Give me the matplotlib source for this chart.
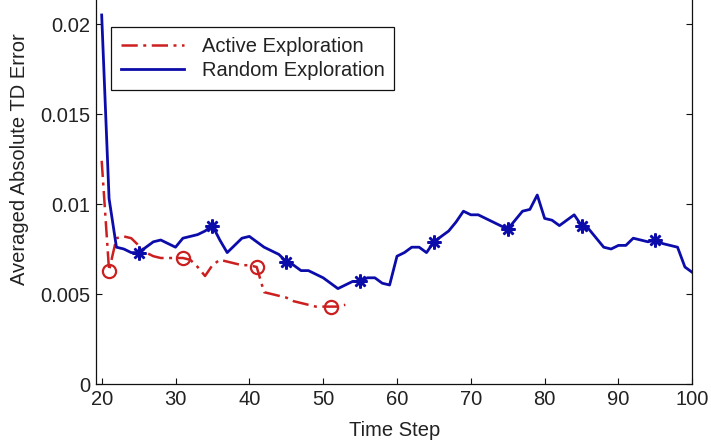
import matplotlib
matplotlib.use("Agg")
import matplotlib.pyplot as plt

# ---- data ----
random_steps = list(range(20, 101))
random_err = [0.0205, 0.0103, 0.0076, 0.0075, 0.0073, 0.0073, 0.0076, 0.0079, 0.0080, 0.0078,
              0.0076, 0.0081, 0.0082, 0.0083, 0.0085, 0.0088, 0.0080, 0.0073, 0.0077, 0.0081,
              0.0082, 0.0079, 0.0076, 0.0074, 0.0072, 0.0068, 0.0066, 0.0063, 0.0063, 0.0061,
              0.0059, 0.0056, 0.0053, 0.0055, 0.0057, 0.0057, 0.0059, 0.0059, 0.0056, 0.0055,
              0.0071, 0.0073, 0.0076, 0.0076, 0.0073, 0.0079, 0.0082, 0.0085, 0.0090, 0.0096,
              0.0094, 0.0094, 0.0092, 0.0090, 0.0088, 0.0086, 0.0091, 0.0096, 0.0097, 0.0105,
              0.0092, 0.0091, 0.0088, 0.0091, 0.0094, 0.0088, 0.0086, 0.0081, 0.0076, 0.0075,
              0.0077, 0.0077, 0.0081, 0.0080, 0.0079, 0.0080, 0.0078, 0.0077, 0.0076, 0.0065,
              0.0062]
active_steps = list(range(20, 54))
active_err = [0.0124, 0.0063, 0.0081, 0.0082, 0.0081, 0.0077, 0.0073, 0.0071, 0.0070, 0.0070,
              0.0070, 0.0070, 0.0069, 0.0065, 0.0060, 0.0066, 0.0069, 0.0068, 0.0067, 0.0066,
              0.0066, 0.0065, 0.0051, 0.0050, 0.0049, 0.0048, 0.0046, 0.0045, 0.0044, 0.0043,
              0.0043, 0.0043, 0.0043, 0.0044]
x_ticks = [20, 30, 40, 50, 60, 70, 80, 90, 100]
y_ticks = [0, 0.005, 0.01, 0.015, 0.02]
y_tick_labels = ["0", "0.005", "0.01", "0.015", "0.02"]
series_labels = ["Active Exploration", "Random Exploration"]
x_label = "Time Step"
y_label = "Averaged Absolute TD Error"

red = "#cc2020"
blue = "#0c0caa"
txt = "#222222"

plt.rcParams['font.family'] = ['Liberation Sans', 'DejaVu Sans']
plt.rcParams['font.size'] = 14.5

fig = plt.figure(figsize=(7.11, 4.48), dpi=100)
ax = fig.add_axes([96 / 711, 64 / 448, 596.3 / 711, 450 / 448])

ax.plot(active_steps, active_err, color=red, lw=1.8,
        linestyle=(0, (6.5, 2.2, 1.2, 2.2)), label=series_labels[0])
ax.plot(random_steps, random_err, color=blue, lw=2.0, label=series_labels[1])
ax.plot(active_steps, active_err, linestyle="none", marker="o", ms=9.5,
        mfc="none", mec=red, mew=1.6, markevery=slice(1, None, 10))
ax.plot(random_steps, random_err, linestyle="none", marker=(8, 2, 0), ms=10,
        mec=blue, mew=1.8, markevery=slice(5, None, 10))

ax.set_xlim(19.23, 100)
ax.set_ylim(0, 0.025)
ax.set_xticks(x_ticks)
ax.set_yticks(y_ticks)
ax.set_yticklabels(y_tick_labels)

ax.tick_params(direction="in", length=4.5, width=0.8, top=True, right=True,
               colors="#111111", labelcolor=txt, pad=4)
for s in ax.spines.values():
    s.set_linewidth(0.9)
    s.set_color("#111111")

ax.set_xlabel(x_label, color=txt, labelpad=9)
ax.set_ylabel(y_label, color=txt, labelpad=8)

leg = ax.legend(loc="upper left", bbox_to_anchor=(111 / 711, 1 - 27 / 448),
                bbox_transform=fig.transFigure, fancybox=False, framealpha=1,
                edgecolor="#111111", borderaxespad=0, borderpad=0.5,
                handlelength=3.1, handletextpad=0.9, labelspacing=0.25)
leg.get_frame().set_linewidth(0.9)
for t in leg.get_texts():
    t.set_color(txt)

fig.savefig("out.png", dpi=100)
